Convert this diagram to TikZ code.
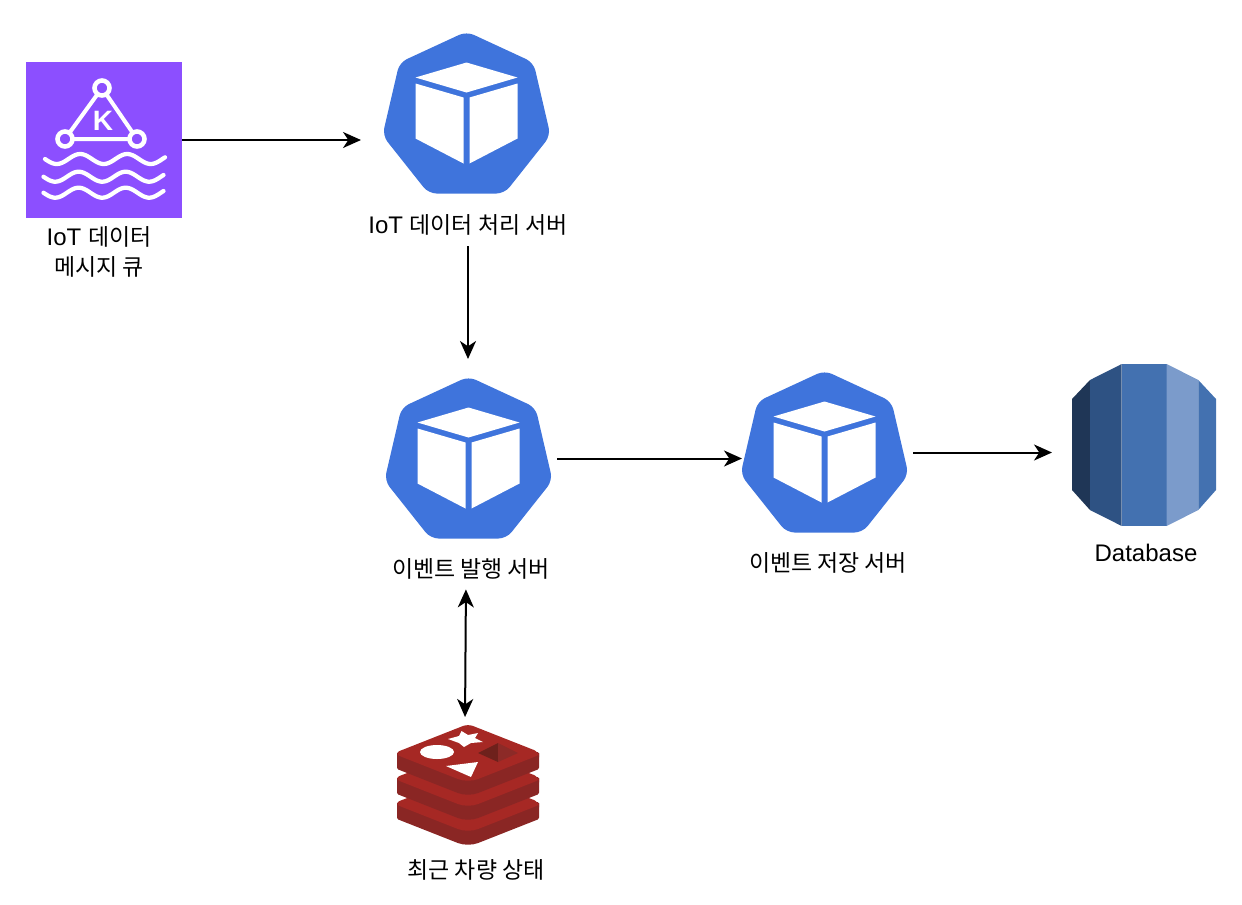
\documentclass[tikz,border=0pt]{standalone}
\usepackage{fontspec}
\setmainfont{Liberation Sans}
\newfontfamily\krfont[Scale=0.955]{Noto Sans CJK KR}
\usetikzlibrary{calc,arrows.meta}

\definecolor{kubeblue}{HTML}{3F74DC}
\definecolor{kafkapurple}{HTML}{8C4FFF}
\definecolor{redislight}{HTML}{A62824}
\definecolor{redisdark}{HTML}{8A2624}
\definecolor{redishole}{HTML}{6E211C}
\definecolor{redisholeB}{HTML}{8C2A27}
\definecolor{rdsA}{HTML}{1F3656}
\definecolor{rdsB}{HTML}{2E5283}
\definecolor{rdsC}{HTML}{4371B0}
\definecolor{rdsD}{HTML}{7B9BCB}

\newcommand{\kr}[1]{{\krfont #1}}

\tikzset{
  kubepic/.pic={
    \fill [kubeblue,rounded corners=6pt] (0,-82) -- (67,-51) -- (84,22) -- (38,80) -- (-38,80) -- (-84,22) -- (-67,-51) -- cycle;
    \fill [white] (0,-51) -- (51,-36) -- (0,-21) -- (-51,-36) -- cycle;
    \fill [white] (-51,-30) -- (-3,-16) -- (-3,50) -- (-51,25) -- cycle;
    \fill [white] (3,-16) -- (51,-30) -- (51,25) -- (3,50) -- cycle;
  },
  kafkapic/.pic={
    \fill [kafkapurple] (-78,-78) rectangle (78,78);
    \draw [white,line width=3pt] (-2,-52) -- (-39,-1) -- (33,-1) -- cycle;
    \foreach \cx/\cy in {-2/-52,-39/-1,33/-1}
      \draw [white,line width=3.4pt,fill=kafkapurple] (\cx,\cy) circle [radius=7.5];
    \node (letter) [white,font=\fontsize{21}{21}\selectfont\bfseries] at (-1,-19) {K};
    \foreach \cy/\dx in {19/0,36.7/-1.5,52.7/-1.5}
      \draw [white,line width=3.2pt,line cap=round] plot [domain=-59:61,samples=70,smooth] ({\x+\dx},{\cy+5*cos((\x+47.3)*7.66)});
  },
  redispic/.pic={
    \foreach \d in {50,25,0} {
      \fill [redisdark,rounded corners=1pt] (-71,28+\d) -- (71,28+\d) -- (71,45+\d) [rounded corners=8pt] -- (0,73+\d) [rounded corners=1pt] -- (-71,45+\d) -- cycle;
      \fill [redislight,rounded corners=2pt] (0,\d) [rounded corners=4pt] -- (71,28+\d) [rounded corners=1.5pt] -- (71,31+\d) [rounded corners=8pt] -- (0,59+\d) [rounded corners=1.5pt] -- (-71,31+\d) -- (-71,28+\d) [rounded corners=4pt] -- cycle;
    }
    \fill [white] (-31,28) ellipse [x radius=17,y radius=7];
    \fill [white] (-20,15) -- (-9,12) -- (-6.5,7) -- (0,11) -- (10,9) -- (7,14) -- (15,18) -- (3,19) -- (-4,23) -- (-9,19) -- cycle;
    \fill [white] (-22,42) -- (10,38) -- (3,53) -- cycle;
    \fill [redishole] (10,29) -- (30,19) -- (30,38) -- cycle;
    \fill [redisholeB] (30,19) -- (50,29) -- (30,38) -- cycle;
  },
  rdspic/.pic={
    \fill [rdsA] (-72,-46) -- (-54,-65) -- (-54,65) -- (-72,45) -- cycle;
    \fill [rdsB] (-54,-65) -- (-22.3,-81) -- (-22.3,81) -- (-54,65) -- cycle;
    \fill [rdsC] (-22.3,-81) rectangle (22.7,81);
    \fill [rdsD] (22.7,-81) -- (54.3,-65) -- (54.3,65) -- (22.7,81) -- cycle;
    \fill [rdsC] (54.3,-65) -- (72,-46) -- (72,45) -- (54.3,65) -- cycle;
  },
}

\begin{document}
\begin{tikzpicture}[x=0.75pt,y=-0.75pt,every node/.style={outer sep=0pt,inner sep=0pt}]
\tikzstyle{iconbox}=[minimum width=123.75pt,minimum height=120.75pt]
\tikzstyle{caption}=[align=center,font=\fontsize{18}{22}\selectfont]
\tikzstyle{flow}=[line width=1.5pt,-{Stealth[length=13.5pt,width=12pt,inset=4pt]}]
\tikzstyle{flowboth}=[line width=1.5pt,{Stealth[length=13.5pt,width=12pt,inset=4pt]}-{Stealth[length=13.5pt,width=12pt,inset=4pt]}]

\useasboundingbox (0,0) rectangle (1242,904);

%icons
\node (kafka) [minimum width=117pt,minimum height=117pt] at (104,140) {};
\node (kube1) [iconbox] at (466.5,113.5) {};
\node (kube2) [iconbox] at (468.5,458.5) {};
\node (kube3) [iconbox] at (824.5,452.5) {};
\node (rds) [minimum width=108pt,minimum height=121.5pt] at (1144,445) {};
\node (redis) [minimum width=108pt,minimum height=90pt] at (468,783) {};

\pic at (kafka) {kafkapic};
\pic at (kube1) {kubepic};
\pic at (kube2) {kubepic};
\pic at (kube3) {kubepic};
\pic at (rds) {rdspic};
\pic at (468,724) {redispic};

%labels
\node (Lkafka) [caption] at (99,252) {IoT \kr{데이터}\\\kr{메시지 큐}};
\node (Lkube1) [caption] at (468,225) {IoT \kr{데이터 처리 서버}};
\node (Lkube2) [caption] at (471,569) {\kr{이벤트 발행 서버}};
\node (Lkube3) [caption] at (828,563) {\kr{이벤트 저장 서버}};
\node (Lrds) [caption] at (1146,553) {Database};
\node (Lredis) [caption] at (476,870) {\kr{최근 차량 상태}};

%connectors
\draw [flow,shorten >=17.25pt] (kafka.east) -- (kafka.east -| kube1.west);
\draw [flow,shorten <=8pt,shorten >=14.25pt] (Lkube1.south) -- (Lkube1.south |- kube2.north);
\draw [flow,shorten <=4.5pt] (kube2.east) -- (kube2.east -| kube3.west);
\draw [flow,shorten <=4.5pt,shorten >=15pt] (kube3.east) -- (kube3.east -| rds.west);
\draw [flowboth,shorten <=7.5pt,shorten >=4.5pt] ([xshift=-3.75pt]Lkube2.south) -- ([xshift=-2.25pt]redis.north);
\end{tikzpicture}
\end{document}
